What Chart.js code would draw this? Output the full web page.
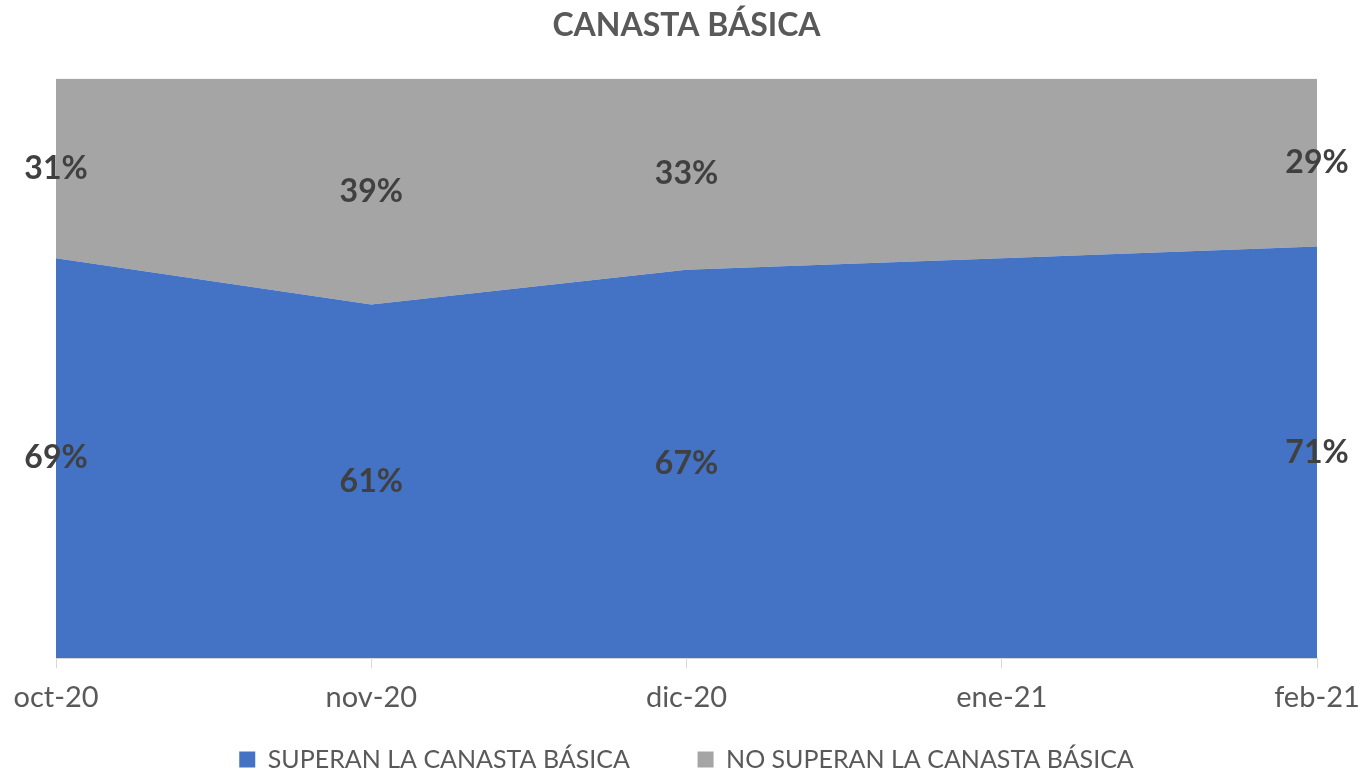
<!DOCTYPE html>
<html lang="es">
<head>
    <meta charset="UTF-8">
    <title>Canasta Básica</title>
    <script src="https://cdn.jsdelivr.net/npm/chart.js"></script>
    <style>
        html, body { margin: 0; padding: 0; background: #fff; }
        #wrap { width: 1360px; height: 772px; }
    </style>
</head>
<body>
    <div id="wrap"><canvas id="chart" width="1360" height="772"></canvas></div>
    <script>
        const months = ['oct-20', 'nov-20', 'dic-20', 'ene-21', 'feb-21'];
        const superan = [69, 61, 67, 69, 71];
        const noSuperan = [31, 39, 33, 31, 29];
        // ene-21 has no labels in the original
        const showLabel = [true, true, true, false, true];

        const labelPlugin = {
            id: 'segLabels',
            afterLayout(chart) {
                // push legend a bit lower, like the original
                chart.legend.top += 10;
                chart.legend.bottom += 10;
            },
            afterDatasetsDraw(chart) {
                const ctx = chart.ctx;
                const y = chart.scales.y;
                ctx.save();
                ctx.font = 'bold 32px Lato';
                ctx.fillStyle = '#404040';
                ctx.textAlign = 'center';
                ctx.textBaseline = 'middle';
                chart.data.datasets.forEach((ds, di) => {
                    const meta = chart.getDatasetMeta(di);
                    meta.data.forEach((pt, i) => {
                        if (!showLabel[i]) return;
                        let base = 0;
                        for (let k = 0; k < di; k++) base += chart.data.datasets[k].data[i];
                        const mid = y.getPixelForValue(base + ds.data[i] / 2);
                        ctx.fillText(ds.data[i] + '%', pt.x, mid);
                    });
                });
                ctx.restore();
            }
        };

        new Chart(document.getElementById('chart'), {
            type: 'line',
            data: {
                labels: months,
                datasets: [{
                    label: 'SUPERAN LA CANASTA BÁSICA         ',
                    data: superan,
                    backgroundColor: '#4472C4',
                    borderColor: '#4472C4',
                    borderWidth: 0,
                    pointRadius: 0,
                    fill: 'origin'
                }, {
                    label: 'NO SUPERAN LA CANASTA BÁSICA',
                    data: noSuperan,
                    backgroundColor: '#A5A5A5',
                    borderColor: '#A5A5A5',
                    borderWidth: 0,
                    pointRadius: 0,
                    fill: '-1'
                }]
            },
            options: {
                responsive: false,
                animation: false,
                layout: { padding: { left: 56, right: 43, top: 0, bottom: 0 } },
                scales: {
                    x: {
                        offset: false,
                        afterFit(scale) {
                            scale.paddingLeft = 0;
                            scale.paddingRight = 0;
                        },
                        grid: { drawOnChartArea: false, drawTicks: true, tickLength: 10, color: '#d9d9d9' },
                        border: { color: '#d9d9d9' },
                        ticks: { color: '#595959', font: { family: 'Lato', size: 29 }, padding: 12, maxRotation: 0 }
                    },
                    y: {
                        display: false,
                        stacked: true,
                        min: 0,
                        max: 100
                    }
                },
                plugins: {
                    title: {
                        display: true,
                        text: 'CANASTA BÁSICA',
                        color: '#595959',
                        font: { family: 'Lato', size: 32, weight: 'bold' },
                        padding: { top: 6, bottom: 34 }
                    },
                    legend: {
                        position: 'bottom',
                        labels: {
                            color: '#595959',
                            font: { family: 'Lato', size: 25 },
                            boxWidth: 16,
                            boxHeight: 16,
                            padding: 10
                        }
                    },
                    tooltip: { enabled: false }
                }
            },
            plugins: [labelPlugin]
        });
    </script>
</body>
</html>
